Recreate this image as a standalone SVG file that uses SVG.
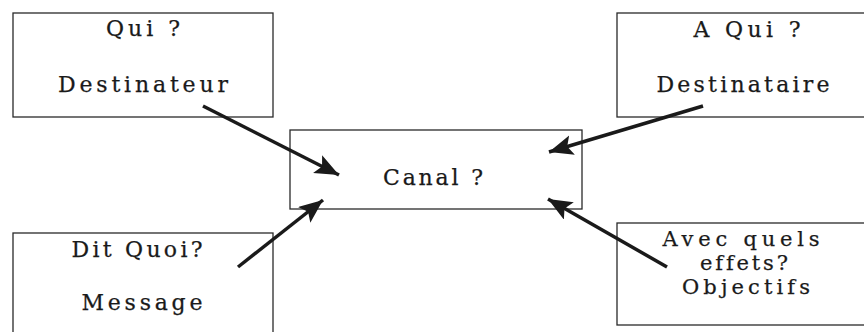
<svg xmlns="http://www.w3.org/2000/svg" width="864" height="332" viewBox="0 0 864 332">
  <style>
    .box { fill: #ffffff; stroke: #2a2a2a; stroke-width: 1.3; }
    .lbl { font-family: "DejaVu Serif", "Liberation Serif", serif; font-size: 22px; fill: #1a1a1a; stroke: #1a1a1a; stroke-width: 0.25; text-anchor: middle; font-variant-ligatures: none; }
    .sm { font-size: 21px; }
    .arrow { stroke: #1a1a1a; stroke-width: 3.5; fill: none; marker-end: url(#head); }
  </style>
  <defs>
    <marker id="head" markerUnits="userSpaceOnUse" markerWidth="26" markerHeight="22" refX="24" refY="10" orient="auto">
      <path d="M0,0 L24,10 L0,20 L5,10 Z" fill="#1a1a1a"/>
    </marker>
  </defs>
  <rect width="864" height="332" fill="#ffffff"/>

  <g id="qui">
    <rect class="box" x="13" y="13" width="260" height="104"/>
    <text class="lbl" x="143" y="36" textLength="74" lengthAdjust="spacing">Qui ?</text>
    <text class="lbl" x="143" y="92" textLength="170" lengthAdjust="spacing">Destinateur</text>
  </g>

  <g id="a-qui">
    <rect class="box" x="617" y="13" width="260" height="104"/>
    <text class="lbl" x="747" y="37" textLength="107" lengthAdjust="spacing">A Qui ?</text>
    <text class="lbl" x="743" y="92" textLength="173" lengthAdjust="spacing">Destinataire</text>
  </g>

  <g id="canal">
    <rect class="box" x="290" y="130" width="292" height="79"/>
    <text class="lbl" x="433" y="185" textLength="100" lengthAdjust="spacing">Canal ?</text>
  </g>

  <g id="dit-quoi">
    <rect class="box" x="13" y="233" width="260" height="110"/>
    <text class="lbl" x="137" y="257" textLength="131" lengthAdjust="spacing">Dit Quoi?</text>
    <text class="lbl" x="142" y="310" textLength="121" lengthAdjust="spacing">Message</text>
  </g>

  <g id="effets">
    <rect class="box" x="617" y="223" width="260" height="102"/>
    <text class="lbl sm" x="741" y="246" textLength="157" lengthAdjust="spacing">Avec quels</text>
    <text class="lbl sm" x="744" y="270" textLength="88" lengthAdjust="spacing">effets?</text>
    <text class="lbl sm" x="746" y="294" textLength="128" lengthAdjust="spacing">Objectifs</text>
  </g>

  <g id="connectors">
    <line class="arrow" x1="203" y1="106" x2="339" y2="175"/>
    <line class="arrow" x1="703" y1="106" x2="549" y2="152"/>
    <line class="arrow" x1="238" y1="267" x2="323" y2="200"/>
    <line class="arrow" x1="667" y1="267" x2="548" y2="199"/>
  </g>
</svg>
